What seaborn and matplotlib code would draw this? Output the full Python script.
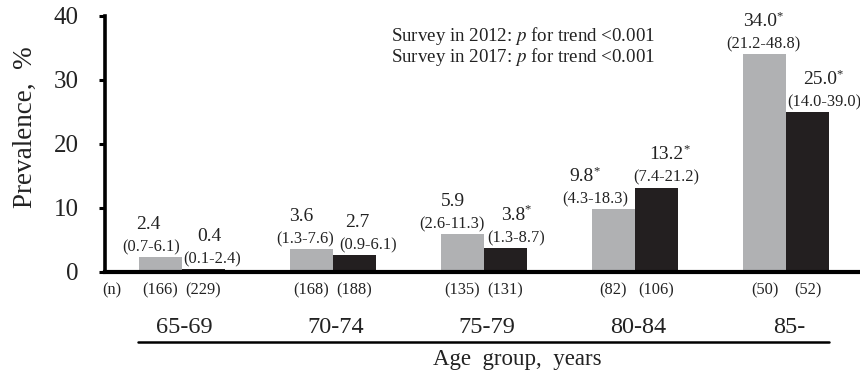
import matplotlib
matplotlib.use("Agg")
import matplotlib.pyplot as plt
from matplotlib.lines import Line2D
import seaborn as sns
import pandas as pd

# Prevalence by age group for the two surveys
age_groups = ["65-69", "70-74", "75-79", "80-84", "85-"]
surveys = ["2012", "2017"]
prev_2012 = [2.4, 3.6, 5.9, 9.8, 34.0]
prev_2017 = [0.4, 2.7, 3.8, 13.2, 25.0]
ci_2012 = ["(0.7-6.1)", "(1.3-7.6)", "(2.6-11.3)", "(4.3-18.3)", "(21.2-48.8)"]
ci_2017 = ["(0.1-2.4)", "(0.9-6.1)", "(1.3-8.7)", "(7.4-21.2)", "(14.0-39.0)"]
star_2012 = [False, False, False, True, True]
star_2017 = [False, False, True, True, True]
n_2012 = [166, 168, 135, 82, 50]
n_2017 = [229, 188, 131, 106, 52]

# Horizontal nudges (points) of the value / CI labels, so they don't collide
value_dx_2012 = [-9, -7.5, -7, -23, -3.5]
ci_dx_2012 = [-7, -4.5, -7.5, -13, -1]
value_dx_2017 = [4.5, 2, 5.5, 7, 9]
ci_dx_2017 = [6, 9.5, 7.5, 7, 12]

GRAY = "#b0b1b3"
BLACK = "#231f20"
TXT = "#222222"

df = pd.DataFrame({
    "age": age_groups * 2,
    "survey": [surveys[0]] * 5 + [surveys[1]] * 5,
    "prev": prev_2012 + prev_2017,
})

sns.set_style("white")
plt.rcParams["font.family"] = ["Liberation Serif", "DejaVu Serif"]
plt.rcParams["mathtext.fontset"] = "stix"

fig = plt.figure(figsize=(8.6, 3.76), dpi=100)
ax = fig.add_axes([105 / 860, 104 / 376, 755 / 860, 256 / 376])

sns.barplot(data=df, x="age", y="prev", hue="survey", palette=[GRAY, BLACK],
            width=0.57, gap=0, saturation=1, errorbar=None, legend=False,
            linewidth=0, ax=ax)

ax.set_xlim(-0.51, 4.49)
ax.set_ylim(0, 40)
ax.set_yticks([0, 10, 20, 30, 40])
ax.set_xticks([])
ax.set_xlabel("")
ax.set_ylabel("Prevalence,  %", fontsize=19.5, color=TXT)
ax.yaxis.label.set_verticalalignment("center")
ax.yaxis.set_label_coords(-0.106, 0.566)
ax.tick_params(axis="y", labelsize=18, length=4.5, width=2.2, pad=14.5,
               left=True, color="black", labelcolor=TXT)
for side in ("top", "right"):
    ax.spines[side].set_visible(False)
ax.spines["left"].set_linewidth(2.6)
ax.spines["bottom"].set_linewidth(3)
ax.spines["left"].set_color("black")
ax.spines["bottom"].set_color("black")

labels = [(ci_2012, star_2012, n_2012, value_dx_2012, ci_dx_2012),
          (ci_2017, star_2017, n_2017, value_dx_2017, ci_dx_2017)]
xform = ax.get_xaxis_transform()
for container, (cis, stars, ns, vdx, cdx) in zip(ax.containers, labels):
    for bar, ci, star, n, dv, dc in zip(container, cis, stars, ns, vdx, cdx):
        cx = bar.get_x() + bar.get_width() / 2
        h = bar.get_height()
        ax.annotate(ci, (cx, h), xytext=(dc, 7), textcoords="offset points",
                    ha="center", va="center", fontsize=11.8, color=TXT,
                    annotation_clip=False)
        val = ax.annotate(f"{h:.1f}", (cx, h), xytext=(dv, 23.5),
                          textcoords="offset points", ha="center", va="center",
                          fontsize=14, color=TXT)
        if star:
            # small superscript mark hugging the value's top-right corner
            ax.annotate("*", xy=(1.0, 0.82), xycoords=val, xytext=(-0.3, 0),
                        textcoords="offset points", ha="left", va="center",
                        fontsize=9, color=TXT)
        ax.annotate(f"({n})", (cx, 0), xycoords=xform, xytext=(0, -13),
                    textcoords="offset points", ha="center", va="center",
                    fontsize=11.8, color=TXT, annotation_clip=False)

ax.annotate("(n)", (-0.465, 0), xycoords=xform, xytext=(0, -13),
            textcoords="offset points", ha="center", va="center",
            fontsize=11.8, color=TXT, annotation_clip=False)

for i, g in enumerate(age_groups):
    ax.annotate(g, (i, 0), xycoords=xform, xytext=(2, -40),
                textcoords="offset points", ha="center", va="center",
                fontsize=17.5, color=TXT, annotation_clip=False)

fig.add_artist(Line2D([138 / 860, 829 / 860], [34 / 376, 34 / 376],
                      color="black", linewidth=1.8, transform=fig.transFigure))
fig.text(517 / 860, 16 / 376, "Age  group,  years", ha="center", va="center",
         fontsize=16.5, color=TXT)

fig.text(391 / 860, (376 - 36) / 376, "Survey in 2012: $p$ for trend <0.001",
         ha="left", va="center", fontsize=13.6, color=TXT)
fig.text(391 / 860, (376 - 57) / 376, "Survey in 2017: $p$ for trend <0.001",
         ha="left", va="center", fontsize=13.6, color=TXT)

fig.savefig("out.png", dpi=100)
